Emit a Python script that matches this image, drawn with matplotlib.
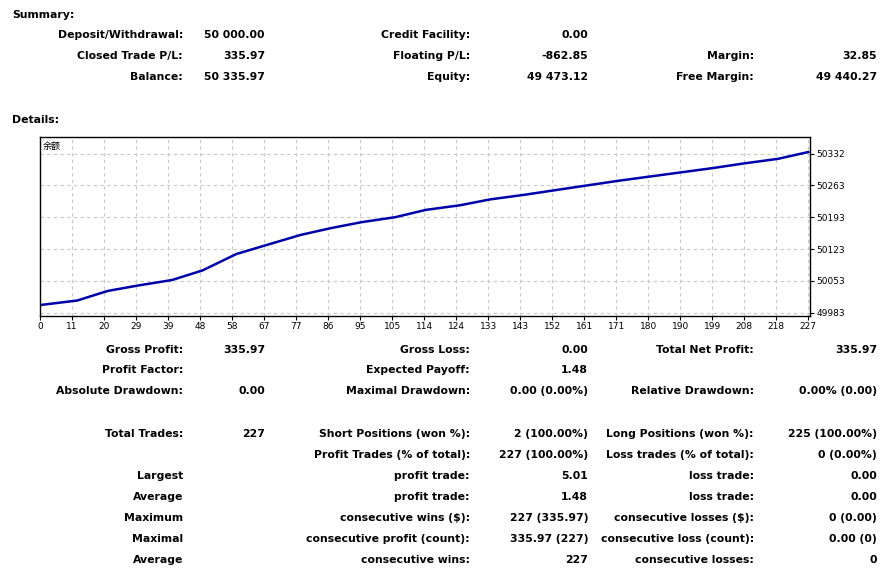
import matplotlib.pyplot as plt

W, H = 889, 571

# balance curve read at the x tick positions
trade_idx = [0, 11, 20, 29, 39, 48, 58, 67, 77, 86, 95, 105, 114, 124, 133, 143,
             152, 161, 171, 180, 190, 199, 208, 218, 227]
balance = [50000, 50010, 50031, 50043, 50055, 50076, 50112, 50132, 50154, 50169,
           50182, 50193, 50209, 50219, 50232, 50242, 50252, 50262, 50273, 50282,
           50292, 50301, 50311, 50321, 50336]
y_ticks = [49983, 50053, 50123, 50193, 50263, 50332]

summary_rows = [
    [("Deposit/Withdrawal:", "50 000.00"), ("Credit Facility:", "0.00"), None],
    [("Closed Trade P/L:", "335.97"), ("Floating P/L:", "-862.85"), ("Margin:", "32.85")],
    [("Balance:", "50 335.97"), ("Equity:", "49 473.12"), ("Free Margin:", "49 440.27")],
]
detail_rows = [
    (350, [("Gross Profit:", "335.97"), ("Gross Loss:", "0.00"), ("Total Net Profit:", "335.97")]),
    (370, [("Profit Factor:", ""), ("Expected Payoff:", "1.48"), None]),
    (391, [("Absolute Drawdown:", "0.00"), ("Maximal Drawdown:", "0.00 (0.00%)"), ("Relative Drawdown:", "0.00% (0.00)")]),
    (434, [("Total Trades:", "227"), ("Short Positions (won %):", "2 (100.00%)"), ("Long Positions (won %):", "225 (100.00%)")]),
    (455, [None, ("Profit Trades (% of total):", "227 (100.00%)"), ("Loss trades (% of total):", "0 (0.00%)")]),
    (476, [("Largest", ""), ("profit trade:", "5.01"), ("loss trade:", "0.00")]),
    (497, [("Average", ""), ("profit trade:", "1.48"), ("loss trade:", "0.00")]),
    (518, [("Maximum", ""), ("consecutive wins ($):", "227 (335.97)"), ("consecutive losses ($):", "0 (0.00)")]),
    (539, [("Maximal", ""), ("consecutive profit (count):", "335.97 (227)"), ("consecutive loss (count):", "0.00 (0)")]),
    (560, [("Average", ""), ("consecutive wins:", "227"), ("consecutive losses:", "0")]),
]
label_x = [183, 470, 754]
value_x = [265, 588, 877]

fig = plt.figure(figsize=(W / 100, H / 100), dpi=100)
fig.patch.set_facecolor('white')


def put(px, py, s, ha='right'):
    fig.text(px / W, 1 - py / H, s, ha=ha, va='center', fontsize=7.8,
             fontweight='bold', family='DejaVu Sans')


put(12, 15, "Summary:", ha='left')
for py, row in zip([35, 56, 77], summary_rows):
    for i, cell in enumerate(row):
        if cell:
            put(label_x[i], py, cell[0])
            put(value_x[i], py, cell[1])
put(12, 120, "Details:", ha='left')
for py, row in detail_rows:
    for i, cell in enumerate(row):
        if cell:
            put(label_x[i], py, cell[0])
            if cell[1]:
                put(value_x[i], py, cell[1])

# chart
left, right, top, bottom = 40, 810, 137, 316
ax = fig.add_axes([left / W, 1 - bottom / H, (right - left) / W, (bottom - top) / H])
ax.plot(trade_idx, balance, color='#0000aa', lw=1.8)
ax.set_xlim(0, 227.5)
ax.set_ylim(49976, 50369)
n = len(trade_idx) - 1
ax.set_xticks([227 * i / n for i in range(n + 1)])
ax.set_xticklabels([str(v) for v in trade_idx])
ax.set_yticks(y_ticks)
ax.yaxis.tick_right()
ax.tick_params(labelsize=6.5, length=3, pad=1.5)
ax.grid(True, color='#c8c8c8', ls=(0, (3, 3)), lw=0.8)
for s in ax.spines.values():
    s.set_linewidth(1.0)
ax.text(0.004, 0.97, "余额", transform=ax.transAxes, ha='left', va='top',
        fontsize=6.5, family=['Noto Sans CJK SC', 'DejaVu Sans'])

fig.savefig('out.png', dpi=100)
